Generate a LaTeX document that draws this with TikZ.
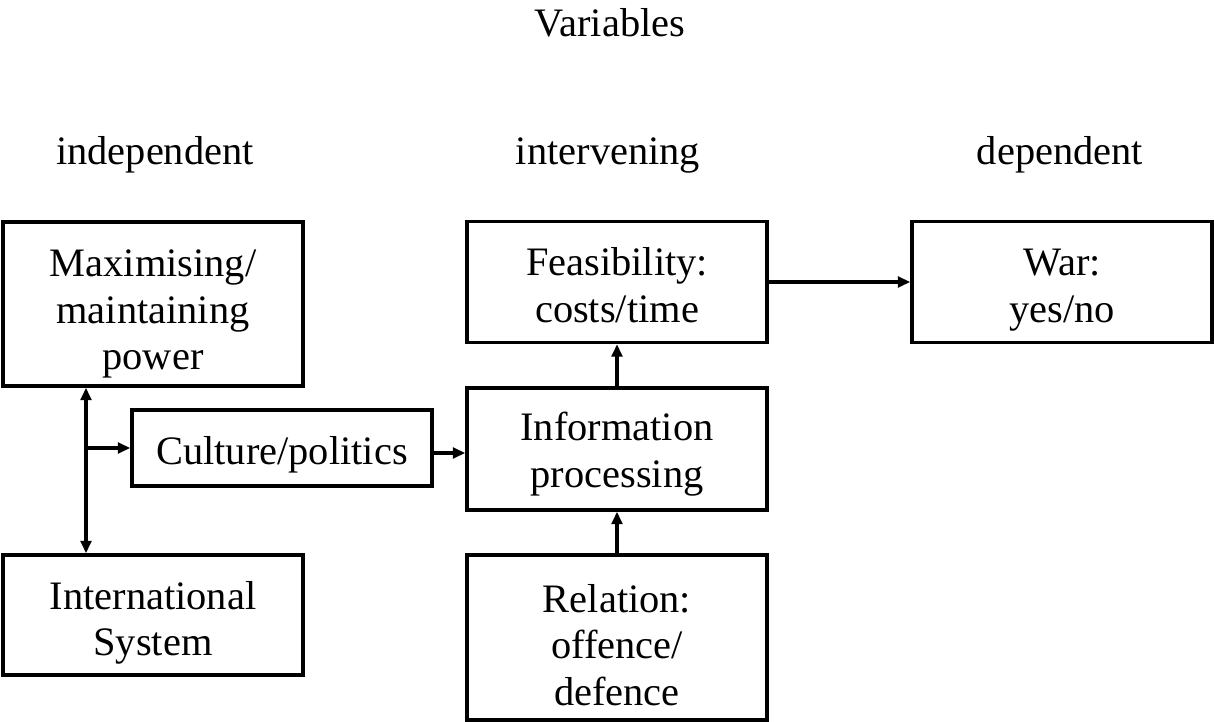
\documentclass[tikz,border=0pt]{standalone}
\usepackage{fontspec}
\setmainfont{Liberation Serif}
\usetikzlibrary{arrows.meta}

\tikzset{
	varbox/.style={draw, line width=2pt, text width=5.9cm, align=center, minimum width=6cm, inner sep=0pt,
		execute at begin node={\rule{0pt}{#1}}, execute at end node=\strut},
	varbox/.default=27pt,
	vartext/.style={align=center, inner sep=0pt},
	link/.style={line width=2pt, -{Triangle[length=7pt,width=6pt]}},
}

\begin{document}
\begin{tikzpicture}[x=0.02cm, y=-0.02cm, font=\fontsize{23}{26.5}\selectfont]
			%%%%% START %%%%%
			
			\useasboundingbox (0, 0) rectangle (1214, 722);
			
			\node[vartext] (title) at (610, 23) {Variables};
			\node[vartext] (indep) at (155, 155) {independent};
			\node[vartext] (interv) at (608, 155) {intervening};
			\node[vartext] (dep) at (1060, 155) {dependent};
			
			\node[varbox=30pt, minimum height=3.28cm] (power) at (153, 304) {Maximising/\\maintaining\\power};
			\node[varbox=28pt, minimum height=2.4cm] (intsys) at (153, 615) {International\\System};
			\node[varbox, minimum height=1.52cm] (cult) at (282, 448) {Culture/politics};
			
			\node[varbox, minimum height=2.42cm] (feas) at (617, 282) {Feasibility:\\costs/time};
			\node[varbox=25pt, minimum height=2.44cm] (info) at (617, 449) {Information\\processing};
			\node[varbox=18.5pt, text depth=47.5pt, minimum height=3.3cm] (rel) at (617, 637.5) {Relation:\\offence/\\defence};
			
			\node[varbox, minimum height=2.42cm] (war) at (1062, 282) {War:\\yes/no};
			
			\coordinate (split) at (86, 448);
			\draw[link, {Triangle[length=7pt,width=6pt]}-{Triangle[length=7pt,width=6pt]}] (power.south -| split) -- (intsys.north -| split);
			\draw[link] (split) -- (cult.west);
			\draw[link] ([yshift=-0.1cm]cult.east) -- ([yshift=-0.1cm]cult.east -| info.west);
			
			\draw[link] (info.north) -- (feas.south);
			\draw[link] (rel.north) -- (info.south);
			\draw[link] (feas.east) -- (war.west);
			
			%%%%% END %%%%%
		\end{tikzpicture}
\end{document}
